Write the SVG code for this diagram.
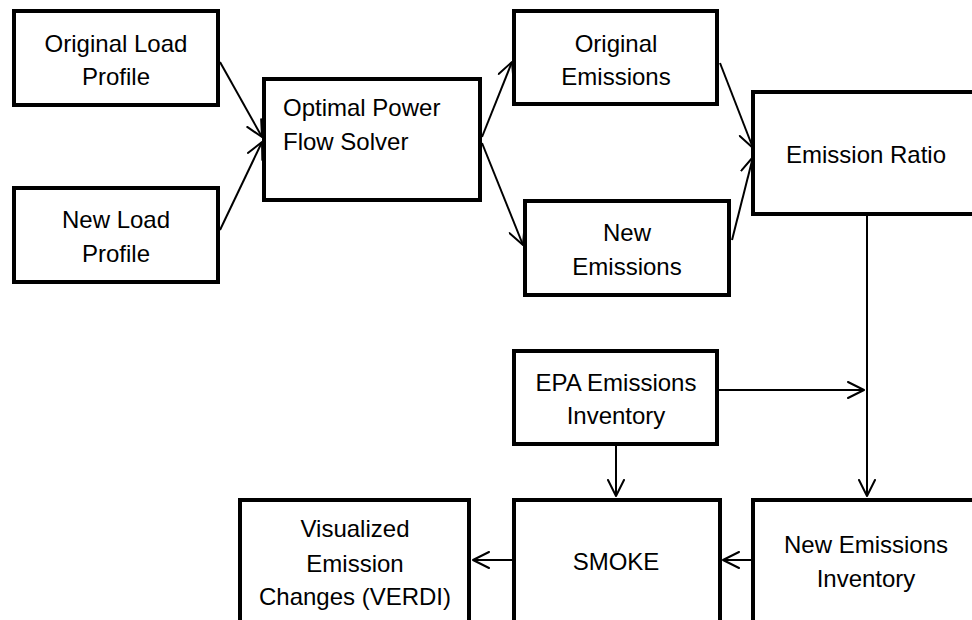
<svg xmlns="http://www.w3.org/2000/svg" width="972" height="620" viewBox="0 0 972 620">
<style>
.box{fill:#fff;stroke:#000;stroke-width:4}
.t{font-family:"Liberation Sans",Arial,sans-serif;font-size:24px;fill:#000;text-anchor:middle}
.tl{text-anchor:start}
.c{fill:none;stroke:#000;stroke-width:2;marker-end:url(#ah)}
</style>
<defs>
<marker id="ah" viewBox="0 0 18 18" refX="17" refY="9" markerWidth="18" markerHeight="18" markerUnits="userSpaceOnUse" orient="auto">
<path d="M1,1 L17,9 L1,17" fill="none" stroke="#000" stroke-width="2" stroke-linejoin="round" stroke-linecap="round"/>
</marker>
</defs>
<rect width="972" height="620" fill="#fff"/>
<g id="connectors">
<line class="c" x1="220" y1="62" x2="262" y2="137"/>
<line class="c" x1="220" y1="230" x2="262" y2="142"/>
<line class="c" x1="482" y1="137" x2="512" y2="62"/>
<line class="c" x1="482" y1="143" x2="523" y2="245"/>
<line class="c" x1="720" y1="63" x2="753" y2="148"/>
<line class="c" x1="732" y1="240" x2="753" y2="157"/>
<line class="c" x1="867" y1="214" x2="867" y2="496"/>
<line class="c" x1="719" y1="390" x2="864" y2="390"/>
<line class="c" x1="616" y1="446" x2="616" y2="496"/>
<line class="c" x1="751" y1="560" x2="723" y2="560"/>
<line class="c" x1="512" y1="560" x2="473" y2="560"/>
</g>
<g id="original-load-profile">
<rect class="box" x="14" y="11" width="204" height="94"/>
<text class="t" x="116" y="52">Original Load</text>
<text class="t" x="116" y="85">Profile</text>
</g>
<g id="new-load-profile">
<rect class="box" x="14" y="188" width="204" height="94"/>
<text class="t" x="116" y="228">New Load</text>
<text class="t" x="116" y="262">Profile</text>
</g>
<g id="opf-solver">
<rect class="box" x="264" y="79" width="216" height="121"/>
<text class="t tl" x="283" y="116">Optimal Power</text>
<text class="t tl" x="283" y="150">Flow Solver</text>
</g>
<g id="original-emissions">
<rect class="box" x="514" y="11" width="203" height="93"/>
<text class="t" x="616" y="52">Original</text>
<text class="t" x="616" y="85">Emissions</text>
</g>
<g id="new-emissions">
<rect class="box" x="525" y="201" width="204" height="94"/>
<text class="t" x="627" y="241">New</text>
<text class="t" x="627" y="275">Emissions</text>
</g>
<g id="emission-ratio">
<rect class="box" x="753" y="92" width="226" height="122"/>
<text class="t" x="866" y="163">Emission Ratio</text>
</g>
<g id="epa-inventory">
<rect class="box" x="514" y="351" width="203" height="93"/>
<text class="t" x="616" y="391">EPA Emissions</text>
<text class="t" x="616" y="424">Inventory</text>
</g>
<g id="smoke">
<rect class="box" x="514" y="500" width="206" height="130"/>
<text class="t" x="616" y="570">SMOKE</text>
</g>
<g id="verdi">
<rect class="box" x="240" y="500" width="229" height="130"/>
<text class="t" x="355" y="537">Visualized</text>
<text class="t" x="355" y="572">Emission</text>
<text class="t" x="355" y="605">Changes (VERDI)</text>
</g>
<g id="new-emissions-inventory">
<rect class="box" x="753" y="500" width="230" height="130"/>
<text class="t" x="866" y="553">New Emissions</text>
<text class="t" x="866" y="587">Inventory</text>
</g>
</svg>
